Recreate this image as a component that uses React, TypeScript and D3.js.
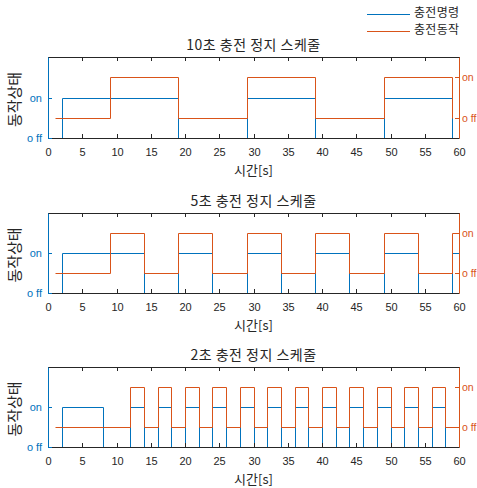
import { useRef, useEffect } from "react";
import * as d3 from "d3";

// legend / colours
const legendLabels = ["충전명령", "충전동작"];
const BLUE = "#0072BD";
const ORANGE = "#D95319";
const AXIS = "#262626";

// x ticks
const xTicks = [0, 5, 10, 15, 20, 25, 30, 35, 40, 45, 50, 55, 60];

// 10s schedule (step-after change points)
const time10 = [1, 2, 9, 19, 29, 39, 49, 59];
const cmd10 = [0, 1, 1, 0, 1, 0, 1, 0];
const act10 = [0, 0, 1, 0, 1, 0, 1, 0];

// 5s schedule
const time5 = [1, 2, 9, 14, 19, 24, 29, 34, 39, 44, 49, 54, 59, 60];
const cmd5 = [0, 1, 1, 0, 1, 0, 1, 0, 1, 0, 1, 0, 1, 1];
const act5 = [0, 0, 1, 0, 1, 0, 1, 0, 1, 0, 1, 0, 1, 1];

// 2s schedule
const time2 = [1, 2, 8, 12, 14, 16, 18, 20, 22, 24, 26, 28, 30, 32, 34, 36, 38, 40, 42, 44, 46, 48, 50, 52, 54, 56, 58, 60];
const cmd2 = [0, 1, 0, 1, 0, 1, 0, 1, 0, 1, 0, 1, 0, 1, 0, 1, 0, 1, 0, 1, 0, 1, 0, 1, 0, 1, 0, 0];
const act2 = [0, 0, 0, 1, 0, 1, 0, 1, 0, 1, 0, 1, 0, 1, 0, 1, 0, 1, 0, 1, 0, 1, 0, 1, 0, 1, 0, 0];

const panels = [
  { title: "10초 충전 정지 스케줄", time: time10, cmd: cmd10, act: act10, top: 57, bottom: 138 },
  { title: "5초 충전 정지 스케줄", time: time5, cmd: cmd5, act: act5, top: 213, bottom: 293 },
  { title: "2초 충전 정지 스케줄", time: time2, cmd: cmd2, act: act2, top: 367, bottom: 447 },
];

const W = 477;
const H = 488;
const LEFT = 48;
const RIGHT = 459;
const KR = "'Noto Sans CJK KR', sans-serif";
const NUM = "'Liberation Sans', Arial, sans-serif";

export default function App() {
  const svgRef = useRef<SVGSVGElement>(null);

  useEffect(() => {
    const svg = d3.select(svgRef.current);
    svg.selectAll("*").remove();

    const x = d3.scaleLinear().domain([0, 60]).rangeRound([LEFT, RIGHT]);

    panels.forEach((p) => {
      const yL = d3.scaleLinear().domain([0, 2]).rangeRound([p.bottom, p.top]);
      const yR = d3.scaleLinear().domain([-0.5, 1.5]).rangeRound([p.bottom, p.top]);
      const g = svg.append("g");

      // data (offset half a pixel so it lines up with the crisp axis lines)
      const data = g.append("g").attr("transform", "translate(0.5,0.5)");
      const line = (ys: d3.ScaleLinear<number, number>) =>
        d3
          .line<number>()
          .x((_, i) => x(p.time[i]))
          .y((d) => ys(d))
          .curve(d3.curveStepAfter);

      data.append("path")
        .attr("d", line(yL)(p.cmd))
        .attr("fill", "none")
        .attr("stroke", BLUE)
        .attr("stroke-width", 1);
      data.append("path")
        .attr("d", line(yR)(p.act))
        .attr("fill", "none")
        .attr("stroke", ORANGE)
        .attr("stroke-width", 1);

      // bottom axis
      const bx = g
        .append("g")
        .attr("transform", `translate(0,${p.bottom})`)
        .call(d3.axisBottom(x).tickValues(xTicks).tickSizeInner(-4).tickSizeOuter(0).tickPadding(10));
      bx.select(".domain").attr("stroke", AXIS);
      bx.selectAll(".tick line").attr("stroke", AXIS);
      bx.selectAll("text").attr("fill", AXIS).attr("font-size", 11).attr("font-family", NUM);

      // top axis (ticks only)
      const tx = g
        .append("g")
        .attr("transform", `translate(0,${p.top})`)
        .call(d3.axisTop(x).tickValues(xTicks).tickSizeInner(-4).tickSizeOuter(0).tickFormat(() => ""));
      tx.select(".domain").attr("stroke", AXIS);
      tx.selectAll(".tick line").attr("stroke", AXIS);

      // left axis
      const lx = g
        .append("g")
        .attr("transform", `translate(${LEFT},0)`)
        .call(
          d3
            .axisLeft(yL)
            .tickValues([0, 1])
            .tickFormat((d) => (d === 1 ? "on" : "o ff"))
            .tickSizeInner(-4)
            .tickSizeOuter(0)
            .tickPadding(6)
        );
      lx.select(".domain").attr("stroke", BLUE);
      lx.selectAll(".tick line").attr("stroke", BLUE);
      lx.selectAll("text").attr("fill", BLUE).attr("font-size", 11).attr("font-family", NUM);

      // right axis
      const rx = g
        .append("g")
        .attr("transform", `translate(${RIGHT},0)`)
        .call(
          d3
            .axisRight(yR)
            .tickValues([0, 1])
            .tickFormat((d) => (d === 1 ? "on" : "o ff"))
            .tickSizeInner(-4)
            .tickSizeOuter(0)
            .tickPadding(3)
        );
      rx.select(".domain").attr("stroke", ORANGE);
      rx.selectAll(".tick line").attr("stroke", ORANGE);
      rx.selectAll("text").attr("fill", ORANGE).attr("font-size", 10.5).attr("font-family", NUM);

      // title
      g.append("text")
        .attr("x", (LEFT + RIGHT) / 2)
        .attr("y", p.top - 11)
        .attr("text-anchor", "middle")
        .attr("dominant-baseline", "middle")
        .attr("fill", AXIS)
        .attr("font-size", 14)
        .attr("letter-spacing", 0.5)
        .attr("font-family", KR)
        .text(p.title);

      // x label
      g.append("text")
        .attr("x", (LEFT + RIGHT) / 2)
        .attr("y", p.bottom + 33)
        .attr("text-anchor", "middle")
        .attr("dominant-baseline", "middle")
        .attr("fill", AXIS)
        .attr("font-size", 13)
        .attr("font-family", KR)
        .text("시간[s]");

      // y label
      g.append("text")
        .attr("transform", `translate(16,${(p.top + p.bottom) / 2 + 2}) rotate(-90)`)
        .attr("text-anchor", "middle")
        .attr("dominant-baseline", "middle")
        .attr("fill", AXIS)
        .attr("font-size", 15)
        .attr("font-family", KR)
        .text("동작상태");
    });

    // legend
    const lg = svg.append("g");
    [BLUE, ORANGE].forEach((c, i) => {
      const y = 14 + i * 17;
      lg.append("line")
        .attr("x1", 367)
        .attr("x2", 410)
        .attr("y1", y + 0.5)
        .attr("y2", y + 0.5)
        .attr("stroke", c)
        .attr("stroke-width", 1);
      lg.append("text")
        .attr("x", 414)
        .attr("y", y)
        .attr("dominant-baseline", "middle")
        .attr("fill", AXIS)
        .attr("font-size", 12)
        .attr("letter-spacing", 0.3)
        .attr("font-family", KR)
        .text(legendLabels[i]);
    });
  }, []);

  return (
    <svg
      ref={svgRef}
      width={W}
      height={H}
      style={{ position: "absolute", left: 0, top: 0, background: "#fff" }}
    />
  );
}
